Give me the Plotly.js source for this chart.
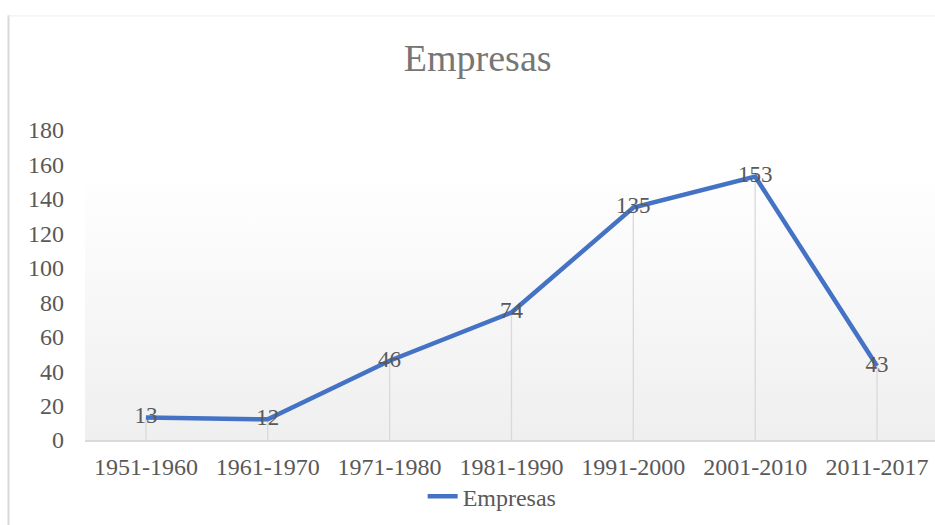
<!DOCTYPE html>
<html>
<head>
<meta charset="utf-8">
<script src="https://cdn.plot.ly/plotly-3.0.1.min.js"></script>
<style>
html,body{margin:0;padding:0;background:#fff;}
#chart{width:935px;height:525px;}
</style>
</head>
<body>
<div id="chart"></div>
<script>
const categories = ["1951-1960","1961-1970","1971-1980","1981-1990","1991-2000","2001-2010","2011-2017"];
const empresas = [13, 12, 46, 74, 135, 153, 43];
const seriesName = "Empresas";
const chartTitle = "Empresas";

// drop lines from each point down to the axis, built from the data
const dropX = [], dropY = [];
categories.forEach((c, i) => { dropX.push(c, c, null); dropY.push(empresas[i], 0, null); });

const serif = "'Liberation Serif', 'Times New Roman', serif";
const txt = "#595959";

const gradSvg = "<svg xmlns='http://www.w3.org/2000/svg' width='100' height='100' preserveAspectRatio='none'>" +
  "<defs><linearGradient id='g' x1='0' y1='0' x2='0' y2='1'>" +
  "<stop offset='0' stop-color='#ffffff'/><stop offset='1' stop-color='#efefef'/>" +
  "</linearGradient></defs><rect width='100' height='100' fill='url(#g)'/></svg>";

const traces = [
  {
    x: dropX, y: dropY, type: "scatter", mode: "lines",
    line: {color: "#d9d9d9", width: 1.3},
    showlegend: false, hoverinfo: "skip", cliponaxis: false
  },
  {
    x: categories, y: empresas, type: "scatter", mode: "lines+text",
    name: seriesName,
    line: {color: "#4472C4", width: 4.5},
    text: empresas.map(String),
    textposition: "middle center",
    textfont: {family: serif, size: 23, color: txt},
    cliponaxis: false
  }
];

const layout = {
  width: 935, height: 525,
  margin: {l: 85, r: 0, t: 130, b: 85},
  paper_bgcolor: "#ffffff",
  plot_bgcolor: "rgba(0,0,0,0)",
  title: {
    text: chartTitle,
    font: {family: serif, size: 38, color: "#767676"},
    x: 0.462, xanchor: "center", y: 0.89, yanchor: "middle", xref: "paper", yref: "container"
  },
  xaxis: {
    type: "category",
    range: [-0.5, 6.476],
    showgrid: false, zeroline: false,
    showline: true, linecolor: "#d9d9d9", linewidth: 1.5,
    ticks: "", ticklabelstandoff: 5,
    tickfont: {family: serif, size: 24, color: txt}
  },
  yaxis: {
    range: [0, 180], dtick: 20, tick0: 0,
    showgrid: false, zeroline: false, showline: false,
    ticks: "", ticklabelstandoff: 20,
    tickfont: {family: serif, size: 24, color: txt}
  },
  legend: {
    orientation: "h", x: 0.479, xanchor: "center", y: -0.183, yanchor: "middle",
    font: {family: serif, size: 24, color: txt},
    bgcolor: "rgba(0,0,0,0)", itemwidth: 30
  },
  images: [{
    source: "data:image/svg+xml;base64," + btoa(gradSvg),
    xref: "paper", yref: "paper", x: 0, y: 0.871, sizex: 1, sizey: 0.871,
    xanchor: "left", yanchor: "top", sizing: "stretch", layer: "below"
  }],
  shapes: [
    {type: "line", xref: "paper", yref: "paper", x0: -0.09, x1: -0.09, y0: 1.37, y1: -0.3,
     line: {color: "#d9d9d9", width: 2}},
    {type: "line", xref: "paper", yref: "paper", x0: -0.09, x1: 1.01, y0: 1.368, y1: 1.368,
     line: {color: "#eeeeee", width: 1}}
  ],
  showlegend: true
};

Plotly.newPlot("chart", traces, layout, {displayModeBar: false, staticPlot: true});
</script>
</body>
</html>
